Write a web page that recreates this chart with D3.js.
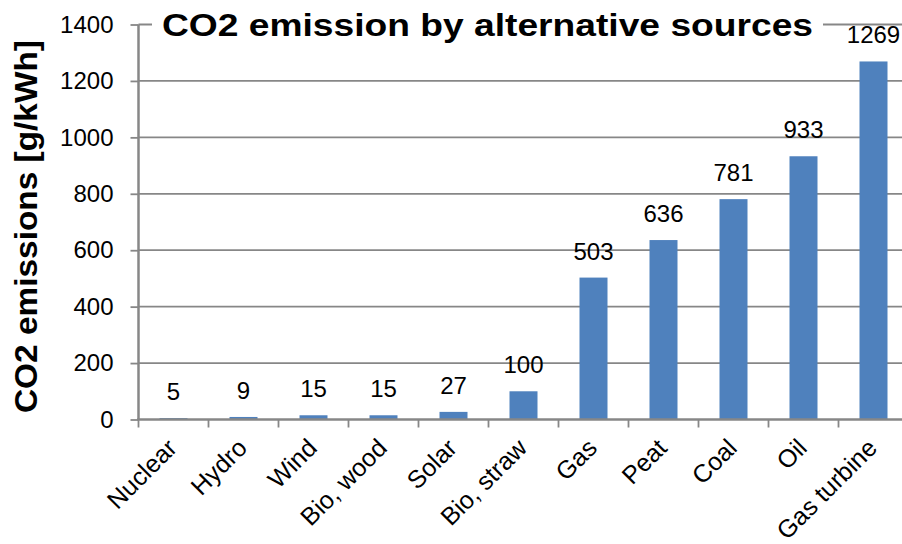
<!DOCTYPE html>
<html>
<head>
<meta charset="utf-8">
<script src="https://cdn.jsdelivr.net/npm/d3@7/dist/d3.min.js"></script>
<style>
  html, body { margin: 0; padding: 0; background: #fff; }
  svg { display: block; font-family: "Liberation Sans", Arial, sans-serif; }
</style>
</head>
<body>
<svg id="chart" width="902" height="544"></svg>
<script>
// CO2 emissions per kWh by generation source
const sources = ["Nuclear", "Hydro", "Wind", "Bio, wood", "Solar", "Bio, straw", "Gas", "Peat", "Coal", "Oil", "Gas turbine"];
const emissions = [5, 9, 15, 15, 27, 100, 503, 636, 781, 933, 1269];
const yTicks = [0, 200, 400, 600, 800, 1000, 1200, 1400];

const svg = d3.select("#chart");
const plotLeft = 138.5, plotRight = 908.5, plotTop = 24.5, plotBottom = 419.5;
const gridColor = "#878787";
const fontFamily = "Liberation Sans, Arial, sans-serif";

const x = d3.scaleBand().domain(sources).range([plotLeft, plotRight]).paddingInner(0.6).paddingOuter(0.3);
const y = d3.scaleLinear().domain([0, 1400]).range([plotBottom, plotTop]);

// horizontal gridlines
svg.append("g").selectAll("line").data(yTicks.filter(d => d > 0)).join("line")
  .attr("x1", plotLeft).attr("x2", 902)
  .attr("y1", d => y(d)).attr("y2", d => y(d))
  .attr("stroke", gridColor).attr("stroke-width", 1.8);

// bars
svg.append("g").selectAll("rect").data(sources).join("rect")
  .attr("x", (d) => x(d))
  .attr("width", x.bandwidth())
  .attr("y", (d, i) => y(emissions[i]))
  .attr("height", (d, i) => plotBottom - y(emissions[i]))
  .attr("fill", "#4F81BD");

// y axis
const yAxis = svg.append("g").attr("transform", `translate(${plotLeft},0)`)
  .call(d3.axisLeft(y).tickValues(yTicks).tickSize(8).tickPadding(17).tickFormat(d3.format("d")));
yAxis.select(".domain").attr("stroke", gridColor).attr("stroke-width", 2.5).attr("d", `M0,${plotTop}V${plotBottom}`);
yAxis.selectAll(".tick line").attr("stroke", gridColor).attr("stroke-width", 1.8);
yAxis.selectAll(".tick text").attr("font-size", 24).attr("fill", "#000").attr("font-family", fontFamily);

// x axis with category boundary ticks
const band = x.step();
const boundaries = d3.range(sources.length + 1).map(i => plotLeft + i * band);
const xAxis = svg.append("g");
xAxis.append("line").attr("x1", plotLeft - 1.25).attr("x2", 902).attr("y1", plotBottom).attr("y2", plotBottom)
  .attr("stroke", gridColor).attr("stroke-width", 2.5);
xAxis.selectAll("line.tk").data(boundaries).join("line").attr("class", "tk")
  .attr("x1", d => d).attr("x2", d => d).attr("y1", plotBottom).attr("y2", plotBottom + 8)
  .attr("stroke", gridColor).attr("stroke-width", 1.8);
xAxis.selectAll("text").data(sources).join("text")
  .attr("transform", d => `translate(${x(d) + x.bandwidth() / 2 + 5},${plotBottom + 30}) rotate(-45)`)
  .attr("text-anchor", "end").attr("font-size", 25).attr("fill", "#000")
  .text(d => d);

// value labels
svg.append("g").selectAll("text").data(sources).join("text")
  .attr("x", d => x(d) + x.bandwidth() / 2)
  .attr("y", (d, i) => y(emissions[i]) - 18)
  .attr("text-anchor", "middle").attr("font-size", 24).attr("fill", "#000")
  .text((d, i) => emissions[i]);

// title with white backing
const title = svg.append("g");
const titleBg = title.append("rect").attr("fill", "#fff");
const titleText = title.append("text")
  .attr("x", 162).attr("y", 36)
  .attr("font-size", 32).attr("font-weight", "bold").attr("fill", "#000")
  .attr("textLength", 651).attr("lengthAdjust", "spacingAndGlyphs")
  .text("CO2 emission by alternative sources");
titleBg.attr("x", 152).attr("y", 6).attr("width", 671).attr("height", 36);

// y axis title
svg.append("text")
  .attr("transform", `translate(37,226.5) rotate(-90)`)
  .attr("text-anchor", "middle").attr("font-size", 31).attr("font-weight", "bold").attr("fill", "#000")
  .attr("textLength", 373).attr("lengthAdjust", "spacingAndGlyphs")
  .text("CO2 emissions [g/kWh]");
</script>
</body>
</html>
